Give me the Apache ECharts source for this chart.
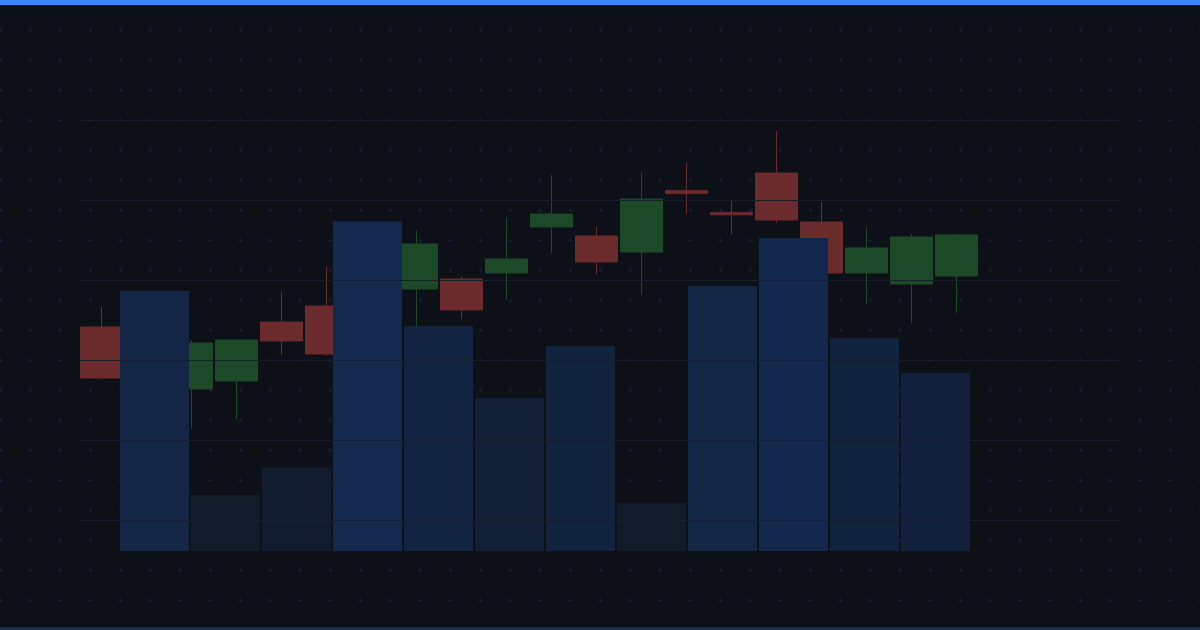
<!DOCTYPE html>
<html>
<head>
<meta charset="utf-8">
<script src="https://cdn.jsdelivr.net/npm/echarts@6/dist/echarts.min.js"></script>
<style>
html,body{margin:0;padding:0;background:#0d1017;}
#wrap{position:relative;width:1200px;height:630px;overflow:hidden;background-color:#0d1017;
 background-image:url("data:image/svg+xml;utf8,<svg xmlns='http://www.w3.org/2000/svg' width='30' height='30'><path d='M13.5 15.5h4M15.5 13.5v4' stroke='%23182336' stroke-width='1'/></svg>");
 background-position:-15px -15px;}
#chart{position:absolute;left:0;top:0;width:1200px;height:630px;}
#topbar{position:absolute;left:0;top:0;width:1200px;height:5px;background:#3a86ff;z-index:3;}
#botbar{position:absolute;left:0;bottom:0;width:1200px;height:3px;background:#1b2d4e;z-index:3;}
</style>
</head>
<body>
<div id="wrap"><div id="chart"></div><div id="topbar"></div><div id="botbar"></div></div>
<script>
// Candle sessions (positions along the price x axis)
const sessions = [0,1,2,3,4,5,6,7,8,9,10,11,12,13,14,15,16,17,18,19];
const opens  = [124.13,118.0,116.38,117.38,124.75,126.75,124.5,128.88,130.13,130.88,136.63,135.5,133.5,141.2,138.45,143.38,137.25,130.88,129.5,130.5];
const closes = [117.75,121.5,122.13,122.5,122.38,120.75,129.0,134.5,126.25,132.63,138.25,132.25,140.13,140.8,138.15,137.5,130.88,134.0,135.38,135.63];
const lows   = [117.63,116.8,111.38,112.63,120.63,120.5,123.5,124.25,125.13,127.5,133.38,130.75,128.13,138.25,135.75,137.13,130.0,127.0,124.63,125.88];
const highs  = [126.63,122.5,122.5,122.63,128.5,131.63,130.5,136.25,130.5,137.75,143.13,136.63,143.5,144.63,139.88,148.63,139.75,136.63,135.75,135.75];

// Volume bars
const volCategories = ['V1','V2','V3','V4','V5','V6','V7','V8','V9','V10','V11','V12'];
const volumes = [60.5,13.0,19.5,76.7,52.3,35.6,47.7,11.2,61.6,72.8,49.5,41.4];

// Price axis ticks
const priceMin = 100, priceMax = 150, priceStep = 10;

const candleData = sessions.map((s, i) => [s, opens[i], closes[i], lows[i], highs[i]]);

const chart = echarts.init(document.getElementById('chart'), null, {renderer: 'canvas'});
chart.setOption({
  backgroundColor: 'transparent',
  animation: false,
  grid: [
    {left: 80, top: 120, width: 1040, height: 400},
    {left: 119, top: 121, width: 852, height: 430}
  ],
  xAxis: [
    {type: 'value', gridIndex: 0, min: -0.4778, max: 22.6333, show: false},
    {type: 'category', gridIndex: 1, data: volCategories, show: false}
  ],
  yAxis: [
    {type: 'value', gridIndex: 0, min: priceMin, max: priceMax, interval: priceStep, z: 10,
     axisLine: {show: false}, axisTick: {show: false}, axisLabel: {show: false},
     splitLine: {show: true, lineStyle: {color: '#171e2c', width: 1}}},
    {type: 'value', gridIndex: 1, min: 0, max: 100, show: false, splitLine: {show: false}}
  ],
  visualMap: {
    show: false, type: 'continuous', seriesIndex: 1, min: 11, max: 77,
    inRange: {color: ['#111b29', '#13294f']}
  },
  series: [
    {
      type: 'candlestick', xAxisIndex: 0, yAxisIndex: 0,
      data: candleData, encode: {x: 0, y: [1, 2, 3, 4]},
      barWidth: 43, z: 2,
      itemStyle: {color: '#1c4a28', color0: '#6b2b2d', borderColor: '#1c4a28', borderColor0: '#6b2b2d', borderWidth: 1}
    },
    {
      type: 'bar', xAxisIndex: 1, yAxisIndex: 1,
      data: volumes, barWidth: 69, z: 3
    }
  ]
});
</script>
</body>
</html>
